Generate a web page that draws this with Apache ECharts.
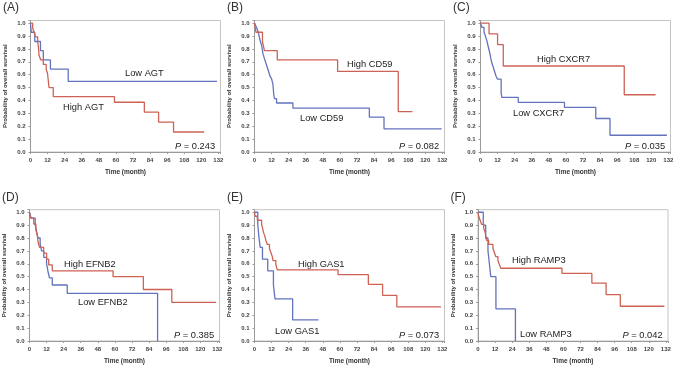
<!DOCTYPE html>
<html>
<head>
<meta charset="utf-8">
<script src="https://cdn.jsdelivr.net/npm/echarts@6/dist/echarts.min.js"></script>
<style>
  html, body { margin: 0; padding: 0; background: #fff; }
  #chart { width: 677px; height: 366px; }
</style>
</head>
<body>
<div id="chart"></div>
<script>
// survival curves: [time (month), probability]
const lowAGT = [[0, 1], [0.5, 0.929], [3, 0.857], [7, 0.786], [9, 0.714], [14, 0.643], [26.5, 0.548], [131, 0.548]]
const highAGT = [[0, 1], [1.5, 0.964], [2.5, 0.929], [3.5, 0.893], [5, 0.857], [5.5, 0.821], [6, 0.75], [7.2, 0.714], [9, 0.679], [11, 0.643], [12, 0.607], [13, 0.5], [16, 0.429], [59, 0.386], [80, 0.309], [90, 0.232], [100.5, 0.155], [122, 0.155]]

const highCD59 = [[0, 1], [1, 0.929], [5.6, 0.857], [7, 0.786], [16, 0.714], [58.4, 0.625], [101, 0.313], [111, 0.313]]
const lowCD59 = [[0, 1], [1.4, 0.966], [2.6, 0.931], [3.3, 0.897], [4, 0.862], [5, 0.828], [5.5, 0.793], [6, 0.759], [7, 0.724], [8, 0.69], [9, 0.655], [10, 0.621], [11, 0.586], [12, 0.569], [13, 0.52], [13.5, 0.45], [14, 0.414], [15.5, 0.38], [27, 0.34], [80.7, 0.27], [91, 0.18], [131.5, 0.18]]

const highCXCR7 = [[0, 1], [6, 0.917], [12, 0.833], [16, 0.667], [101, 0.444], [123, 0.444]]
const lowCXCR7 = [[0, 1], [1, 0.966], [2.5, 0.931], [3.5, 0.897], [4.5, 0.862], [5.2, 0.828], [6, 0.793], [6.7, 0.759], [7.3, 0.724], [8, 0.69], [9, 0.655], [10, 0.621], [11, 0.586], [12, 0.565], [14.5, 0.46], [15, 0.424], [26.5, 0.385], [59, 0.346], [81, 0.26], [91, 0.13], [131, 0.13]]

const highEFNB2 = [[0, 1], [0.5, 0.955], [3, 0.909], [4.5, 0.864], [5.5, 0.818], [6, 0.773], [7, 0.727], [10, 0.682], [12, 0.636], [13.5, 0.591], [16, 0.545], [58.7, 0.5], [80, 0.4], [100, 0.3], [131, 0.3]]
const lowEFNB2 = [[0, 1], [1.2, 0.955], [4, 0.9], [5, 0.85], [6, 0.8], [7.5, 0.75], [8.5, 0.7], [10, 0.65], [12, 0.6], [13, 0.54], [14, 0.49], [16, 0.435], [26.5, 0.37], [90, 0]]

const highGAS1 = [[0, 1], [0.5, 0.969], [2, 0.938], [5, 0.906], [5.7, 0.875], [6.3, 0.844], [7.3, 0.813], [8, 0.781], [9, 0.75], [10.5, 0.719], [11.5, 0.688], [12.5, 0.656], [13, 0.625], [15, 0.594], [16, 0.553], [58.7, 0.515], [80, 0.44], [90, 0.355], [100, 0.265], [131, 0.265]]
const lowGAS1 = [[0, 1], [2.3, 0.909], [3, 0.818], [4, 0.727], [5.6, 0.636], [9.3, 0.545], [13.3, 0.436], [14.4, 0.327], [26.8, 0.164], [45, 0.164]]

const highRAMP3 = [[0, 1], [0.5, 0.969], [1.5, 0.938], [2.5, 0.906], [4, 0.875], [5, 0.844], [5.5, 0.813], [6, 0.781], [7.5, 0.75], [10.5, 0.719], [11.5, 0.688], [12.5, 0.656], [14, 0.625], [15, 0.594], [16, 0.565], [59, 0.525], [80, 0.45], [90, 0.36], [100, 0.27], [131, 0.27]]
const lowRAMP3 = [[0, 1], [3.7, 0.9], [5.4, 0.8], [7, 0.7], [8, 0.6], [9, 0.5], [12.6, 0.25], [26.3, 0]]

const pValues = ['0.243', '0.082', '0.035', '0.385', '0.073', '0.042']

const RED = '#cd6255'
const BLUE = '#6373bd'
const FONT = 'Liberation Sans, Arial, sans-serif'

// panel layout
const panels = [
  { tag: '(A)', left: 30.5, top: 20.5, hi: highAGT, lo: lowAGT, hiName: 'High AGT', loName: 'Low AGT', hiPos: [63, 107], loPos: [125, 73] },
  { tag: '(B)', left: 254.5, top: 20.5, hi: highCD59, lo: lowCD59, hiName: 'High CD59', loName: 'Low CD59', hiPos: [347, 64], loPos: [300, 118] },
  { tag: '(C)', left: 480.5, top: 20.5, hi: highCXCR7, lo: lowCXCR7, hiName: 'High CXCR7', loName: 'Low CXCR7', hiPos: [537, 59], loPos: [513, 113] },
  { tag: '(D)', left: 29.5, top: 209.7, hi: highEFNB2, lo: lowEFNB2, hiName: 'High EFNB2', loName: 'Low EFNB2', hiPos: [64, 264], loPos: [78, 302] },
  { tag: '(E)', left: 254.5, top: 209.7, hi: highGAS1, lo: lowGAS1, hiName: 'High GAS1', loName: 'Low GAS1', hiPos: [298, 264], loPos: [275, 331] },
  { tag: '(F)', left: 478, top: 209.7, hi: highRAMP3, lo: lowRAMP3, hiName: 'High RAMP3', loName: 'Low RAMP3', hiPos: [512, 260], loPos: [520, 334] }
]

const chart = echarts.init(document.getElementById('chart'))

const grid = panels.map(p => ({
  left: p.left, top: p.top, width: 190, height: 131.5,
  show: true, borderColor: '#c4c4c4', borderWidth: 1
}))

const xAxis = panels.map((p, i) => ({
  gridIndex: i,
  type: 'value',
  min: 0, max: 133.5, interval: 12,
  name: 'Time (month)',
  nameLocation: 'middle',
  nameGap: 17,
  nameTextStyle: { fontSize: 6.5, fontWeight: 'bold', color: '#333', fontFamily: FONT },
  axisLine: { lineStyle: { color: '#9a9a9a', width: 1 } },
  axisTick: { show: true, length: 2, lineStyle: { color: '#9a9a9a' } },
  axisLabel: {
    fontSize: 6, color: '#444', fontFamily: FONT, fontWeight: 'bold', margin: 5,
    formatter: v => (v % 12 === 0 ? String(v) : '')
  },
  splitLine: { show: false }
}))

const yAxis = panels.map((p, i) => ({
  gridIndex: i,
  type: 'value',
  min: 0, max: 1.02, interval: 0.1,
  name: 'Probability of overall survival',
  nameLocation: 'middle',
  nameGap: 22,
  nameTextStyle: { fontSize: 6, fontWeight: 'bold', color: '#333', fontFamily: FONT },
  axisLine: { show: true, lineStyle: { color: '#9a9a9a', width: 1 } },
  axisTick: { show: true, length: 2, lineStyle: { color: '#9a9a9a' } },
  axisLabel: {
    fontSize: 6, color: '#444', fontFamily: FONT, fontWeight: 'bold', margin: 5,
    formatter: v => {
      const t = v * 10
      return Math.abs(t - Math.round(t)) < 1e-6 && v <= 1.0001 ? v.toFixed(1) : ''
    }
  },
  splitLine: { show: false }
}))

const series = []
panels.forEach((p, i) => {
  series.push({
    type: 'line', name: p.hiName, xAxisIndex: i, yAxisIndex: i,
    step: 'end', showSymbol: false, data: p.hi,
    lineStyle: { color: RED, width: 1.3 }, itemStyle: { color: RED }, z: 3
  })
  series.push({
    type: 'line', name: p.loName, xAxisIndex: i, yAxisIndex: i,
    step: 'end', showSymbol: false, data: p.lo,
    lineStyle: { color: BLUE, width: 1.3 }, itemStyle: { color: BLUE }, z: 2
  })
})

// text annotations
const txt = (x, y, text, size, extra) => ({
  type: 'text', x: x, y: y, z: 10,
  style: Object.assign({ text: text, fontSize: size, fill: '#222', fontFamily: FONT, textVerticalAlign: 'middle' }, extra || {})
})

const graphic = []
panels.forEach((p, i) => {
  graphic.push(txt(p.left - 27.5, p.top - 12.5, p.tag, 12, { fill: '#333' }))
  graphic.push(txt(p.hiPos[0], p.hiPos[1], p.hiName, 9.3))
  graphic.push(txt(p.loPos[0], p.loPos[1], p.loName, 9.3))
  graphic.push(txt(p.left + 144.5, p.top + 126, '{i|P} = ' + pValues[i], 9.3, {
    rich: { i: { fontStyle: 'italic', fontSize: 9.3, fontFamily: FONT, fill: '#222' } }
  }))
})

chart.setOption({
  animation: false,
  grid: grid,
  xAxis: xAxis,
  yAxis: yAxis,
  series: series,
  graphic: graphic
})
</script>
</body>
</html>
